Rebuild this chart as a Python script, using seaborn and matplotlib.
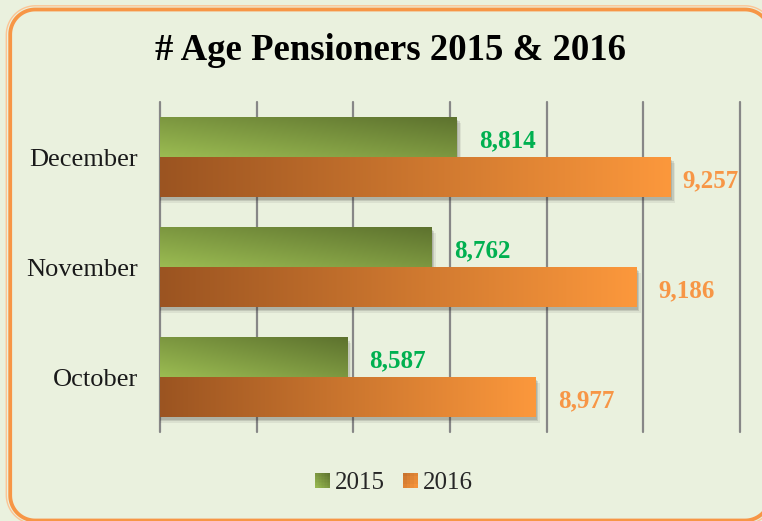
import numpy as np
import pandas as pd
import matplotlib
matplotlib.use("Agg")
import matplotlib.pyplot as plt
import seaborn as sns
import matplotlib.patheffects as pe
from matplotlib.patches import Rectangle, PathPatch
from matplotlib.path import Path
from matplotlib.legend_handler import HandlerBase

# ---------------- data ----------------
months = ["December", "November", "October"]
years = ["2015", "2016"]
values_2015 = [8814, 8762, 8587]
values_2016 = [9257, 9186, 8977]
title = "# Age Pensioners 2015 & 2016"
x_min, x_max, x_step = 8200, 9400, 200

df = pd.DataFrame({
    "month": months * 2,
    "year": [years[0]] * len(months) + [years[1]] * len(months),
    "value": values_2015 + values_2016,
})

# ---------------- style ----------------
bg = "#EAF1DE"
green_light = np.array([155, 188, 82]) / 255
green_dark = np.array([93, 114, 46]) / 255
orange_left = np.array([155, 84, 33]) / 255
orange_right = np.array([252, 152, 60]) / 255
label_colors = {"2015": "#00B050", "2016": "#F79646"}

sns.set_theme(style="white")
plt.rcParams["font.family"] = ["Liberation Serif", "DejaVu Serif"]


def green_col(u, v):  # u: 0 left..1 right, v: 0 bottom..1 top
    t = (u + v) / 2
    return green_light * (1 - t) + green_dark * t


def orange_col(u, v):
    return orange_left * (1 - u) + orange_right * u


def orange_legend_col(u, v):
    t = (u + (1 - v)) / 2
    return orange_left * (1 - t) * 0.6 + orange_right * (1 - 0.6 * (1 - t))


color_fns = {"2015": green_col, "2016": orange_col}

W, H = 762, 521
fig = plt.figure(figsize=(W / 100, H / 100), dpi=100, facecolor=bg)


# ---------- rounded frame drawn as filled rings (pixel units) ----------
def rounded_rect(x0, y0, x1, y1, r, n=24):
    pts = []
    corners = [(x1 - r, y0 + r, -90, 0), (x1 - r, y1 - r, 0, 90),
               (x0 + r, y1 - r, 90, 180), (x0 + r, y0 + r, 180, 270)]
    for cx, cy, a0, a1 in corners:
        for a in np.linspace(np.radians(a0), np.radians(a1), n):
            pts.append((cx + r * np.cos(a), cy + r * np.sin(a)))
    return pts


def ring_path(x0, y0, x1, y1, r, lw):
    h = lw / 2
    outer = rounded_rect(x0 - h, y0 - h, x1 + h, y1 + h, r + h)
    inner = rounded_rect(x0 + h, y0 + h, x1 - h, y1 - h, max(r - h, 0.1))[::-1]
    verts = outer + [outer[0]] + inner + [inner[0]]
    codes = ([Path.MOVETO] + [Path.LINETO] * (len(outer) - 1) + [Path.CLOSEPOLY]
             + [Path.MOVETO] + [Path.LINETO] * (len(inner) - 1) + [Path.CLOSEPOLY])
    return Path(verts, codes)


bgax = fig.add_axes([0, 0, 1, 1], zorder=-5)
bgax.set_xlim(0, W)
bgax.set_ylim(H, 0)
bgax.axis("off")
bgax.add_patch(PathPatch(ring_path(6.3, 5.8, 774, 524, 29, 1.4),
                         facecolor="#FBC596", edgecolor="none", clip_on=False))
bgax.add_patch(PathPatch(ring_path(10.2, 9.5, 770, 520.5, 25, 3.8),
                         facecolor="#F79646", edgecolor="none", clip_on=False))

# ---------------- chart ----------------
ax = fig.add_axes([160 / W, 1 - 432 / H, 580 / W, 330 / H])
ax.set_facecolor("none")

sns.barplot(data=df, y="month", x="value", hue="year", order=months,
            hue_order=years, orient="h", width=0.727,
            palette=["#7D9B42", "#D4772F"], saturation=1, ax=ax,
            legend=False, zorder=2)

ax.set_xlim(x_min, x_max)
ax.set_ylim(2.5, -0.5)

# gradient fills + shadows
nx, ny = 256, 64
uu, vv = np.meshgrid(np.linspace(0, 1, nx), np.linspace(1, 0, ny))  # row0 = top
bars = list(ax.patches)
for i, p in enumerate(bars):
    yr = years[i // len(months)]
    x_end = p.get_x() + p.get_width()
    y0, h = p.get_y(), p.get_height()
    img = color_fns[yr](uu[..., None], vv[..., None])
    p.set_path_effects([
        pe.SimplePatchShadow(offset=(3, -4), shadow_rgbFace="k", alpha=0.07),
        pe.SimplePatchShadow(offset=(2, -3), shadow_rgbFace="k", alpha=0.12),
        pe.SimplePatchShadow(offset=(1, -2), shadow_rgbFace="k", alpha=0.12),
        pe.Normal()])
    p.set_edgecolor("none")
    ax.imshow(img, extent=(x_min, x_end, y0 + h, y0), origin="upper",
              aspect="auto", interpolation="bilinear", zorder=3 + i // len(months))

ax.set_xlim(x_min, x_max)
ax.set_ylim(2.5, -0.5)

# grid
ax.set_xticks(np.arange(x_min, x_max + 1, x_step))
ax.set_xticklabels([])
ax.grid(axis="x", color="#878787", linewidth=1.6)
ax.grid(axis="y", visible=False)
ax.set_axisbelow(True)
for gl in ax.get_xgridlines():
    gl.set_clip_on(False)
for s in ax.spines.values():
    s.set_visible(False)
ax.tick_params(axis="x", length=0)
ax.tick_params(axis="y", length=0, pad=16, labelsize=19, labelcolor="#1a1a1a")
ax.set_xlabel("")
ax.set_ylabel("")

# data labels
all_vals = values_2015 + values_2016
for i, p in enumerate(bars):
    yr = years[i // len(months)]
    v = all_vals[i]
    yc = p.get_y() + p.get_height() / 2
    off = 8 if v > x_max - x_step else 16
    ax.annotate(f"{v:,}", xy=(v, yc), xytext=(off, -1), textcoords="offset points",
                ha="left", va="center_baseline", fontsize=18, fontweight="bold",
                color=label_colors[yr], zorder=6, annotation_clip=False)

# title
fig.text(0.512, 0.904, title, ha="center", va="center", fontsize=26.5,
         fontweight="bold", color="black")


# legend with gradient swatches
class GradHandler(HandlerBase):
    def __init__(self, fn, n):
        super().__init__()
        self.fn = fn
        self.n = n

    def create_artists(self, legend, orig_handle, xdescent, ydescent, width,
                       height, fontsize, trans):
        s = min(width, height)
        x0 = -xdescent + (width - s) / 2
        y0 = -ydescent + (height - s) / 2
        n = self.n
        arts = []
        for a in range(n):
            for b in range(n):
                col = np.clip(self.fn((a + 0.5) / n, (b + 0.5) / n), 0, 1)
                r = Rectangle((x0 + a * s / n, y0 + b * s / n), s / n * 1.02, s / n * 1.02,
                              facecolor=col, edgecolor="none", linewidth=0,
                              antialiased=False, transform=trans)
                arts.append(r)
        return arts


h1 = Rectangle((0, 0), 1, 1)
h2 = Rectangle((0, 0), 1, 1)
fig.legend([h1, h2], years, loc="center", bbox_to_anchor=(394 / W, 1 - 483 / H),
           ncol=2, frameon=False, fontsize=18, handlelength=0.6,
           handleheight=0.6, handletextpad=0.22, columnspacing=0.7,
           handler_map={h1: GradHandler(green_col, 10),
                        h2: GradHandler(orange_legend_col, 4)})

fig.savefig("out.png", dpi=100, facecolor=bg)
